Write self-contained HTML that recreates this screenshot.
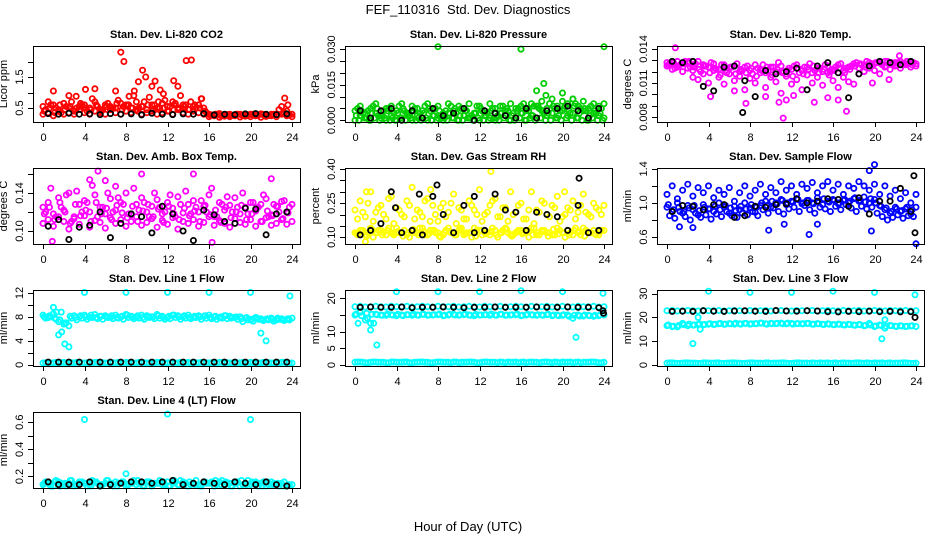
<!DOCTYPE html>
<html><head><meta charset="utf-8"><style>
html,body{margin:0;padding:0;background:#fff;}
svg{display:block;font-family:"Liberation Sans",sans-serif;}
</style></head><body>
<svg id="chart" width="936" height="540" viewBox="0 0 936 540">
<text x="468" y="14" text-anchor="middle" font-size="13">FEF_110316&#160; Std. Dev. Diagnostics</text>
<text x="468" y="531" text-anchor="middle" font-size="13">Hour of Day (UTC)</text>
</svg>
<script>
// shared time grids (hours)
const halfHours = []; for (let i = 0; i <= 48; i++) halfHours.push(i * 0.5);
const offHours = []; for (let i = 0; i < 48; i++) offHours.push(0.25 + i * 0.5);
const qHours = []; for (let i = 0; i < 48; i++) qHours.push(0.125 + i * 0.5);
const q3Hours = []; for (let i = 0; i < 48; i++) q3Hours.push(0.375 + i * 0.5);
const blackHours = []; for (let i = 0; i < 24; i++) blackHours.push(i + 0.5);
const xTicks = [0, 4, 8, 12, 16, 20, 24];

// ---- CO2 ----
const co2A = [0.55,0.7,0.6,0.45,0.65,0.5,0.4,0.55,0.6,0.5,0.7,0.45,0.6,0.55,0.5,0.65,0.6,0.5,0.7,0.55,0.45,0.6,0.5,0.65,0.55,0.7,0.5,0.6,0.45,0.55,0.6,0.5,0.3,0.28,0.32,0.25,0.3,0.27,0.3,0.26,0.3,0.28,0.31,0.27,0.3,0.29,0.55,0.4,0.3];
const co2B = [0.3,0.35,0.25,0.4,0.3,0.35,0.3,0.45,0.35,0.3,0.4,0.35,0.3,0.45,0.35,0.3,0.4,0.35,0.45,0.3,0.35,0.4,0.3,0.35,0.4,0.3,0.45,0.35,0.3,0.4,0.35,0.3,0.22,0.25,0.2,0.24,0.22,0.25,0.21,0.24,0.22,0.25,0.2,0.23,0.25,0.22,0.3,0.25,0.22];
const co2C = [0.45,0.6,0.5,0.35,0.55,0.7,0.5,0.6,0.4,0.8,0.55,0.45,0.65,0.5,0.75,0.55,0.6,0.9,0.5,0.7,0.85,0.6,0.5,0.75,0.55,0.65,0.9,0.6,0.7,0.5,0.8,0.35,0.28,0.3,0.25,0.29,0.27,0.3,0.26,0.28,0.3,0.27,0.29,0.26,0.3,0.45,0.35,0.28];
const co2D = [0.4,0.5,0.35,0.6,0.45,0.55,0.4,0.65,0.5,0.45,0.6,0.4,0.55,0.5,0.65,0.45,0.6,0.5,0.4,0.55,0.6,0.45,0.7,0.5,0.4,0.6,0.5,0.55,0.45,0.6,0.5,0.4,0.27,0.3,0.26,0.29,0.25,0.3,0.28,0.26,0.29,0.27,0.3,0.25,0.28,0.3,0.32,0.27];
const co2OutX = [1,2.5,3.2,4.1,5,7,7.5,7.8,8.3,8.8,9.2,9.6,9.9,10.5,10.8,11.3,11.6,12.6,13,13.8,14.3,15.3,23.3,23.6];
const co2OutY = [1.05,0.9,0.88,1.1,1.12,1.05,2.3,2.0,0.88,1.05,1.35,1.72,1.5,1.2,1.37,1.08,0.96,1.38,1.2,2.03,2.05,0.8,0.82,0.6];
const co2Black = [0.32,0.3,0.33,0.3,0.31,0.29,0.32,0.3,0.31,0.28,0.33,0.3,0.29,0.31,0.3,0.32,0.28,0.3,0.29,0.31,0.32,0.3,0.29,0.31];

// ---- Pressure ----
const prA = [0.004,0.006,0.003,0.005,0.007,0.002,0.005,0.006,0.004,0.007,0.003,0.006,0.005,0.004,0.007,0.005,0.006,0.003,0.007,0.004,0.006,0.005,0.007,0.003,0.006,0.004,0.007,0.005,0.006,0.004,0.007,0.005,0.006,0.004,0.007,0.006,0.008,0.005,0.009,0.006,0.008,0.007,0.009,0.006,0.008,0.005,0.007,0.006,0.007];
const prB = [0,0.002,0.001,0,0.003,0.001,0,0.002,0,0.001,0.003,0,0.002,0.001,0,0.002,0.001,0,0.003,0.001,0,0.002,0.001,0.003,0,0.002,0.001,0,0.003,0.002,0,0.001,0.003,0,0.002,0.001,0.004,0.002,0.003,0.001,0.004,0.002,0.003,0.001,0.004,0,0.003,0.002,0.001];
const prC = [0.005,0.003,0.004,0.006,0.002,0.004,0.005,0.003,0.006,0.004,0.002,0.005,0.003,0.006,0.004,0.005,0.002,0.004,0.006,0.003,0.005,0.004,0.002,0.006,0.004,0.003,0.005,0.002,0.006,0.004,0.003,0.005,0.007,0.004,0.006,0.005,0.003,0.007,0.005,0.004,0.006,0.003,0.007,0.005,0.004,0.006,0.003,0.005];
const prD = [0.002,0.004,0.001,0.003,0.005,0.002,0.004,0.001,0.003,0.005,0.002,0.004,0.001,0.003,0.005,0.002,0.004,0.001,0.003,0.005,0.002,0.004,0.001,0.003,0.005,0.002,0.004,0.001,0.003,0.005,0.002,0.004,0.003,0.005,0.002,0.006,0.004,0.003,0.006,0.002,0.005,0.004,0.006,0.003,0.005,0.002,0.004,0.003];
const prE = [0,0.001,0,0.001,0,0.001,0,0,0.001,0,0.001,0,0,0.001,0,0,0.001,0,0.001,0,0,0.001,0,0.001,0,0,0.001,0,0.001,0,0,0.001,0,0.001,0,0.001,0,0,0.001,0,0.001,0,0.001,0,0,0.001,0,0];
const prOutX = [8,16,18.2,18.4,17.5,20,21,24];
const prOutY = [0.031,0.030,0.0155,0.0105,0.0125,0.0115,0.009,0.031];
const prBlack = [0.004,0.001,0.004,0.005,0,0.004,0.001,0.005,0.002,0.003,0.005,0,0.004,0.003,0.002,0.001,0.005,0.001,0.004,0.005,0.006,0.004,0.001,0.005];

// ---- Li-820 Temp ----
const tpA = [0.0128,0.0126,0.0129,0.0127,0.0128,0.0125,0.0129,0.0126,0.0124,0.0127,0.0122,0.0126,0.0123,0.0125,0.012,0.0124,0.0121,0.0126,0.0122,0.0119,0.0124,0.012,0.0125,0.0118,0.0122,0.0126,0.0121,0.0124,0.0119,0.0123,0.012,0.0125,0.0122,0.0126,0.0121,0.0124,0.0127,0.0123,0.0126,0.0128,0.0127,0.0128,0.0129,0.0127,0.0128,0.0129,0.0127,0.0128,0.0127];
const tpB = [0.0125,0.0122,0.0124,0.012,0.0123,0.0121,0.0113,0.0118,0.011,0.0121,0.0115,0.0109,0.0118,0.0112,0.0116,0.0104,0.0114,0.011,0.0119,0.0106,0.0115,0.0111,0.0101,0.0116,0.0109,0.0113,0.0104,0.0117,0.011,0.0115,0.0108,0.0119,0.0112,0.0106,0.0115,0.0111,0.0109,0.0118,0.012,0.0123,0.0121,0.0118,0.0124,0.0122,0.0125,0.0123,0.0126,0.0124,0.0125];
const tpC = [0.0127,0.0123,0.0126,0.0129,0.0124,0.0127,0.012,0.0125,0.0128,0.0122,0.0126,0.0119,0.0124,0.0127,0.0121,0.0125,0.0118,0.0123,0.0126,0.0121,0.0124,0.0128,0.012,0.0123,0.0125,0.0119,0.0124,0.0127,0.0121,0.0123,0.0126,0.012,0.0124,0.0127,0.0123,0.0125,0.0128,0.0126,0.0129,0.0127,0.0128,0.0126,0.0129,0.0127,0.0128,0.0126,0.0127,0.0128];
const tpD = [0.0126,0.0128,0.0125,0.0127,0.0129,0.0124,0.0122,0.0125,0.0119,0.0123,0.0117,0.0121,0.0124,0.0118,0.0122,0.0119,0.0123,0.0116,0.0121,0.0124,0.0117,0.0122,0.0119,0.0121,0.0116,0.0123,0.0118,0.0122,0.0125,0.0119,0.0122,0.0117,0.0121,0.0123,0.0119,0.0122,0.0125,0.0127,0.0124,0.0126,0.0128,0.0127,0.0125,0.0128,0.0126,0.0127,0.0129,0.0126];
const tpOutX = [0.8,2.5,4.2,6.5,7.6,9.5,10.8,11.2,11.5,12.2,14.2,15.5,16.5,17.3,19.8,21.4,22.4];
const tpOutY = [0.0141,0.0115,0.0098,0.0103,0.0092,0.0098,0.0093,0.0079,0.0095,0.0099,0.0093,0.0097,0.0095,0.0085,0.011,0.0113,0.0134];
const tpBlack = [0.0129,0.0128,0.0129,0.0107,0.0103,0.0124,0.0125,0.0112,0.0098,0.0121,0.0118,0.012,0.0123,0.0104,0.0125,0.0128,0.0119,0.0097,0.0118,0.0125,0.0129,0.0128,0.0126,0.0129];
const tpBlackOutX = [7.3]; const tpBlackOutY = [0.0084];

// ---- Amb Box Temp ----
const abA = [0.125,0.13,0.118,0.135,0.122,0.14,0.115,0.128,0.132,0.12,0.138,0.125,0.118,0.134,0.122,0.13,0.14,0.117,0.128,0.135,0.12,0.126,0.133,0.118,0.13,0.124,0.136,0.119,0.128,0.132,0.12,0.126,0.138,0.115,0.13,0.122,0.127,0.135,0.118,0.125,0.13,0.121,0.128,0.134,0.117,0.126,0.131,0.12,0.128];
const abB = [0.108,0.112,0.105,0.115,0.11,0.102,0.113,0.107,0.116,0.104,0.111,0.109,0.103,0.114,0.108,0.112,0.105,0.11,0.115,0.106,0.109,0.113,0.104,0.111,0.107,0.114,0.102,0.11,0.108,0.112,0.105,0.109,0.115,0.106,0.111,0.108,0.104,0.113,0.109,0.107,0.112,0.105,0.11,0.114,0.106,0.108,0.112,0.107,0.11];
const abC = [0.12,0.145,0.115,0.125,0.138,0.11,0.142,0.12,0.13,0.148,0.115,0.125,0.14,0.12,0.135,0.128,0.118,0.145,0.122,0.13,0.115,0.14,0.125,0.12,0.138,0.115,0.128,0.142,0.118,0.125,0.132,0.12,0.145,0.115,0.128,0.136,0.12,0.125,0.14,0.118,0.13,0.125,0.138,0.115,0.128,0.12,0.132,0.125];
const abD = [0.118,0.125,0.112,0.13,0.12,0.108,0.128,0.116,0.122,0.11,0.13,0.118,0.124,0.112,0.127,0.119,0.114,0.126,0.11,0.121,0.128,0.115,0.123,0.109,0.126,0.118,0.112,0.124,0.116,0.121,0.11,0.127,0.117,0.122,0.109,0.125,0.114,0.12,0.127,0.112,0.118,0.124,0.11,0.121,0.116,0.126,0.113,0.119];
const abOutX = [0.9,4.5,5.3,6,7,9.5,14.5,16.3,22];
const abOutY = [0.089,0.154,0.163,0.153,0.147,0.16,0.16,0.088,0.155];
const abBlack = [0.105,0.112,0.091,0.104,0.106,0.12,0.093,0.108,0.118,0.115,0.098,0.126,0.118,0.1,0.09,0.122,0.117,0.11,0.108,0.124,0.123,0.096,0.118,0.12];

// ---- Gas Stream RH ----
const rhA = [0.12,0.13,0.11,0.14,0.12,0.13,0.11,0.12,0.14,0.12,0.11,0.13,0.12,0.14,0.11,0.13,0.12,0.11,0.14,0.12,0.13,0.11,0.12,0.14,0.13,0.12,0.11,0.13,0.12,0.14,0.11,0.12,0.13,0.12,0.14,0.11,0.13,0.12,0.11,0.14,0.12,0.13,0.11,0.12,0.14,0.12,0.13,0.11,0.13];
const rhB = [0.11,0.13,0.12,0.1,0.13,0.12,0.14,0.11,0.12,0.13,0.1,0.12,0.14,0.11,0.13,0.12,0.1,0.13,0.12,0.11,0.14,0.12,0.1,0.13,0.11,0.12,0.14,0.1,0.13,0.12,0.11,0.13,0.12,0.1,0.14,0.11,0.13,0.12,0.11,0.13,0.1,0.12,0.14,0.11,0.13,0.12,0.11,0.13];
const rhC = [0.22,0.26,0.19,0.3,0.21,0.24,0.18,0.28,0.23,0.2,0.26,0.32,0.22,0.19,0.27,0.24,0.17,0.25,0.21,0.29,0.23,0.18,0.26,0.22,0.31,0.2,0.24,0.27,0.19,0.23,0.3,0.21,0.25,0.18,0.3,0.22,0.26,0.2,0.24,0.28,0.19,0.23,0.26,0.21,0.29,0.2,0.25,0.22,0.24];
const rhD = [0.18,0.21,0.25,0.17,0.23,0.2,0.27,0.16,0.22,0.19,0.24,0.18,0.21,0.26,0.17,0.2,0.23,0.19,0.25,0.16,0.22,0.18,0.24,0.2,0.17,0.21,0.26,0.19,0.23,0.17,0.2,0.24,0.18,0.22,0.16,0.21,0.25,0.19,0.23,0.17,0.2,0.22,0.18,0.24,0.21,0.19,0.23,0.2];
const rhE = [0.115,0.125,0.105,0.135,0.12,0.11,0.13,0.115,0.125,0.105,0.12,0.135,0.11,0.125,0.115,0.13,0.105,0.12,0.125,0.11,0.135,0.115,0.12,0.105,0.13,0.115,0.125,0.11,0.12,0.135,0.105,0.125,0.115,0.13,0.11,0.12,0.125,0.105,0.135,0.115,0.12,0.11,0.13,0.125,0.105,0.12,0.115,0.125];
const rhOutX = [1,1.1,7.3,13.1,20.2];
const rhOutY = [0.08,0.3,0.31,0.39,0.3];
const rhBlack = [0.11,0.13,0.16,0.3,0.12,0.13,0.11,0.28,0.2,0.12,0.24,0.12,0.13,0.29,0.22,0.21,0.13,0.21,0.2,0.19,0.13,0.24,0.12,0.13];
const rhBlackOutX = [3.9,7.9,21.6,11.5,6.2]; const rhBlackOutY = [0.23,0.33,0.36,0.28,0.29];

// ---- Sample Flow ----
const sfA = [0.95,0.9,1.0,0.88,0.97,0.92,0.86,0.98,0.93,0.9,1.0,0.95,0.88,0.96,0.92,1.0,0.94,0.89,0.97,1.02,0.95,1.0,1.04,0.98,1.02,1.05,0.99,1.03,1.0,1.06,0.98,1.02,1.04,0.99,1.03,1.0,1.05,1.02,1.07,1.0,1.04,0.97,0.92,0.88,0.95,0.9,0.93,0.87,0.95];
const sfB = [1.1,1.2,1.05,1.15,1.22,1.08,1.18,1.12,1.2,1.06,1.15,1.1,1.18,1.02,1.12,1.2,1.08,1.15,1.22,1.1,1.18,1.12,1.25,1.15,1.2,1.1,1.22,1.17,1.24,1.12,1.2,1.25,1.15,1.22,1.1,1.2,1.17,1.25,1.2,1.15,1.22,1.1,1.2,1.08,1.15,1.05,1.12,1.0,1.1];
const sfC = [0.85,0.82,0.9,0.84,0.8,0.88,0.83,0.86,0.81,0.87,0.84,0.9,0.85,0.83,0.88,0.86,0.9,0.85,0.92,0.88,0.94,0.9,0.87,0.93,0.95,0.9,0.97,0.92,0.88,0.95,0.93,0.9,0.96,0.92,0.98,0.94,0.9,0.96,0.93,0.95,0.88,0.84,0.8,0.83,0.86,0.82,0.85,0.84];
const sfD = [0.98,0.92,0.95,0.9,0.94,0.97,0.91,0.95,0.93,0.96,0.92,0.97,0.94,0.91,0.96,0.93,0.98,0.95,1.0,0.97,1.02,0.99,1.03,1.0,1.01,1.04,1.0,1.03,0.99,1.02,1.05,1.01,1.03,1.0,1.04,1.02,1.06,1.03,1.01,1.05,1.0,0.96,0.94,0.9,0.93,0.91,0.95,0.92];
const sfOutX = [1.2,2.5,9.8,11.3,13.7,14.5,19.5,20,19.7,24];
const sfOutY = [0.72,0.71,0.68,0.75,0.63,0.75,1.38,1.45,0.67,0.52];
const sfBlack = [0.9,0.97,0.96,0.92,0.98,0.98,0.83,0.85,0.96,0.95,0.98,0.99,1.05,1.0,1.02,1.05,1.04,0.96,1.06,0.87,1.02,1.02,1.17,0.9];
const sfBlackOutX = [23.8,23.9]; const sfBlackOutY = [1.32,0.65];

// ---- Line 1 Flow ----
const l1A = [8.3,7.9,8.5,7.2,6.8,6.5,8.2,8.0,8.3,7.9,8.4,8.1,8.2,7.9,8.3,8.0,8.4,8.1,7.9,8.3,8.2,8.0,8.4,8.1,7.9,8.3,8.2,8.0,8.3,7.9,8.2,8.1,8.3,8.0,7.9,8.2,8.1,7.9,8.0,7.8,7.5,7.9,7.7,7.6,7.8,7.5,7.7,7.6,7.8];
const l1B = [7.8,8.0,7.6,8.8,7.0,7.8,7.5,7.8,7.6,7.9,7.7,7.6,7.9,7.7,7.8,7.6,7.9,7.7,7.8,7.6,7.9,7.7,7.8,7.6,7.7,7.9,7.6,7.8,7.7,7.9,7.6,7.8,7.7,7.6,7.8,7.7,7.9,7.6,7.2,7.5,7.3,7.6,7.4,7.5,7.3,7.6,7.4,7.5];
const l1C = [8.0,8.2,7.8,7.5,7.0,8.1,7.9,8.2,8.0,8.3,7.9,8.1,8.0,8.2,7.9,8.1,8.3,8.0,8.2,7.9,8.1,8.0,8.2,7.9,8.1,8.3,8.0,8.2,7.9,8.1,8.0,8.2,7.9,8.1,8.0,8.2,7.8,8.0,7.7,7.9,7.6,7.8,7.5,7.7,7.6,7.8,7.5,7.7];
const l1Z = [0.3,0.4,0.3,0.3,0.4,0.3,0.3,0.4,0.3,0.3,0.4,0.3,0.3,0.4,0.3,0.3,0.4,0.3,0.3,0.4,0.3,0.3,0.4,0.3,0.3,0.4,0.3,0.3,0.4,0.3,0.3,0.4,0.3,0.3,0.4,0.3,0.3,0.4,0.3,0.3,0.4,0.3,0.3,0.4,0.3,0.3,0.4,0.3,0.3];
const l1Z2 = [0.35,0.3,0.4,0.35,0.3,0.35,0.4,0.3,0.35,0.3,0.4,0.35,0.3,0.35,0.4,0.3,0.35,0.3,0.4,0.35,0.3,0.35,0.4,0.3,0.35,0.3,0.4,0.35,0.3,0.35,0.4,0.3,0.35,0.3,0.4,0.35,0.3,0.35,0.4,0.3,0.35,0.3,0.4,0.35,0.3,0.35,0.4,0.3];
const l1OutX = [1,1.3,1.5,1.8,2.1,2.5,4,8,12,16,20,21,21.5,23.8];
const l1OutY = [9.6,8.8,5.0,5.5,3.5,3.0,12.1,12.1,12.1,12.1,12.1,5.3,4.0,11.5];
const l1Black = [0.45,0.45,0.45,0.45,0.45,0.45,0.45,0.45,0.45,0.45,0.45,0.45,0.45,0.45,0.45,0.45,0.45,0.45,0.45,0.45,0.45,0.45,0.45,0.45];

// ---- Line 2 Flow ----
const l2A = [17.5,17.6,17.4,17.5,17.6,17.5,17.4,17.6,17.5,17.5,17.6,17.4,17.5,17.6,17.5,17.4,17.6,17.5,17.5,17.6,17.4,17.5,17.6,17.5,17.4,17.6,17.5,17.5,17.6,17.4,17.5,17.6,17.5,17.4,17.6,17.5,17.5,17.6,17.4,17.5,17.6,17.5,17.4,17.6,17.5,17.5,17.6,17.4,17.5];
const l2B = [15.0,15.8,13.5,12.5,15.2,15.0,14.9,15.1,14.8,15.0,15.1,14.9,15.0,15.2,14.9,15.0,15.1,14.8,15.0,15.2,14.9,15.1,15.0,14.8,15.0,15.1,14.9,15.0,15.2,14.9,15.0,15.1,14.8,15.0,15.1,14.9,15.0,15.1,14.8,15.0,14.9,15.0,14.0,15.0,14.7,14.9,14.6,14.8,15.0];
const l2C = [15.3,14.8,15.5,15.2,15.1,14.9,15.3,15.0,15.2,14.8,15.1,15.3,14.9,15.2,15.0,15.1,15.3,14.9,15.2,15.0,15.1,15.3,14.9,15.2,15.0,15.1,15.3,14.9,15.2,15.0,15.1,15.3,14.9,15.2,15.0,15.1,14.9,15.2,15.0,14.8,15.1,14.6,14.9,14.7,15.0,14.8,14.9,15.0];
const l2Z = [0.8,0.9,0.7,0.8,0.9,0.8,0.7,0.9,0.8,0.8,0.9,0.7,0.8,0.9,0.8,0.7,0.9,0.8,0.8,0.9,0.7,0.8,0.9,0.8,0.7,0.9,0.8,0.8,0.9,0.7,0.8,0.9,0.8,0.7,0.9,0.8,0.8,0.9,0.7,0.8,0.9,0.8,0.7,0.9,0.8,0.8,0.9,0.7,0.8];
const l2Z2 = [0.9,0.8,0.7,0.9,0.8,0.8,0.7,0.9,0.8,0.9,0.7,0.8,0.9,0.8,0.7,0.8,0.9,0.8,0.7,0.9,0.8,0.8,0.9,0.7,0.8,0.9,0.8,0.7,0.8,0.9,0.8,0.7,0.9,0.8,0.8,0.7,0.9,0.8,0.9,0.7,0.8,0.9,0.8,0.7,0.8,0.9,0.8,0.7];
const l2OutX = [0.3,0.5,1.2,1.5,1.8,2.1,4,8,12,16,20,21.3,23.9];
const l2OutY = [12.5,16,14,10.5,12.5,6,22,22,22,22.3,22,8.3,21.5];
const l2Black = [17.3,17.4,17.3,17.3,17.4,17.2,17.3,17.3,17.4,17.3,17.2,17.3,17.3,17.4,17.3,17.3,17.3,17.4,17.3,17.3,17.4,17.3,17.3,17.2];
const l2BlackOutX = [23.9,23.95]; const l2BlackOutY = [16.3,15.5];

// ---- Line 3 Flow ----
const l3A = [22.8,22.9,22.7,22.8,22.9,22.8,22.7,22.9,22.8,22.8,22.9,22.7,22.8,22.9,22.8,22.7,22.9,22.8,22.8,22.9,22.7,22.8,22.9,22.8,22.7,22.9,22.8,22.8,22.9,22.7,22.8,22.9,22.8,22.7,22.9,22.8,22.8,22.9,22.7,22.8,22.9,22.8,22.7,22.9,22.8,22.8,22.9,22.7,22.8];
const l3B = [16.5,16.2,16.0,17.5,16.5,16.8,17.0,16.9,17.2,17.0,17.3,17.1,17.4,17.2,17.3,17.5,17.2,17.4,17.6,17.3,17.5,17.4,17.6,17.3,17.5,17.4,17.3,17.5,17.2,17.4,17.1,17.3,17.0,17.2,16.9,17.1,16.8,17.0,16.5,17.5,16.2,16.8,15.5,16.6,16.3,16.5,16.2,16.4,16.2];
const l3C = [16.8,16.3,16.6,16.9,17.2,16.8,17.3,17.0,17.4,17.1,17.5,17.2,17.3,17.6,17.2,17.5,17.3,17.4,17.6,17.2,17.4,17.5,17.3,17.6,17.2,17.4,17.3,17.5,17.1,17.3,17.0,17.2,16.9,17.1,16.8,17.0,16.7,16.9,16.6,16.8,16.4,16.6,16.3,16.5,16.2,16.4,16.3,16.5];
const l3Z = [0.8,0.9,0.7,0.8,0.9,0.8,0.7,0.9,0.8,0.8,0.9,0.7,0.8,0.9,0.8,0.7,0.9,0.8,0.8,0.9,0.7,0.8,0.9,0.8,0.7,0.9,0.8,0.8,0.9,0.7,0.8,0.9,0.8,0.7,0.9,0.8,0.8,0.9,0.7,0.8,0.9,0.8,0.7,0.9,0.8,0.8,0.9,0.7,0.8];
const l3Z2 = [0.9,0.8,0.7,0.9,0.8,0.8,0.7,0.9,0.8,0.9,0.7,0.8,0.9,0.8,0.7,0.8,0.9,0.8,0.7,0.9,0.8,0.8,0.9,0.7,0.8,0.9,0.8,0.7,0.8,0.9,0.8,0.7,0.9,0.8,0.8,0.7,0.9,0.8,0.9,0.7,0.8,0.9,0.8,0.7,0.8,0.9,0.8,0.7];
const l3OutX = [2.5,3,3.2,4,8,12,16,20,20.7,21,23.9];
const l3OutY = [9,20,15,31,30.5,30.5,31,30.5,11,19,29.5];
const l3Black = [22.5,22.6,22.5,22.8,22.6,22.5,22.7,22.8,22.6,22.5,22.9,22.7,22.6,22.8,22.7,22.4,22.3,22.5,22.4,22.6,22.4,22.5,22.3,22.4];
const l3BlackOutX = [23.9]; const l3BlackOutY = [20];

// ---- Line 4 Flow ----
const l4A = [0.14,0.15,0.13,0.16,0.14,0.15,0.13,0.16,0.15,0.14,0.16,0.13,0.15,0.14,0.16,0.15,0.13,0.16,0.14,0.15,0.16,0.13,0.15,0.14,0.16,0.15,0.14,0.16,0.13,0.15,0.14,0.16,0.15,0.13,0.16,0.14,0.15,0.16,0.13,0.15,0.14,0.16,0.15,0.13,0.16,0.14,0.15,0.13,0.14];
const l4B = [0.16,0.13,0.17,0.15,0.13,0.17,0.14,0.16,0.13,0.17,0.15,0.14,0.17,0.13,0.15,0.16,0.14,0.17,0.15,0.13,0.16,0.15,0.17,0.14,0.13,0.16,0.17,0.15,0.14,0.17,0.13,0.15,0.16,0.14,0.17,0.15,0.13,0.16,0.14,0.17,0.15,0.13,0.16,0.14,0.15,0.13,0.16,0.14];
const l4C = [0.15,0.14,0.16,0.13,0.15,0.17,0.14,0.16,0.15,0.13,0.16,0.14,0.17,0.15,0.13,0.16,0.14,0.15,0.17,0.13,0.16,0.14,0.15,0.16,0.13,0.17,0.14,0.15,0.16,0.14,0.13,0.16,0.15,0.17,0.14,0.16,0.13,0.15,0.17,0.14,0.16,0.15,0.13,0.16,0.14,0.15,0.13,0.14];
const l4OutX = [4,8,12,20];
const l4OutY = [0.62,0.22,0.66,0.62];
const l4Black = [0.16,0.14,0.14,0.14,0.16,0.13,0.14,0.15,0.16,0.16,0.15,0.16,0.17,0.14,0.15,0.16,0.15,0.14,0.16,0.15,0.14,0.16,0.14,0.13];

const RED='#ff0000', GRN='#00cd00', MAG='#ff00ff', YEL='#ffff00', BLU='#0000ff', CYN='#00ffff', BLK='#000000';

const panels = [
 {name:'co2', title:'Stan. Dev. Li-820 CO2', ylab:'Licor ppm', col:0,row:0, lo:0.05, hi:2.5, ticks:[0.5,1,1.5,2], labels:[0.5,1.5], fmt:v=>String(v),
  series:[[halfHours,co2A,RED],[halfHours,co2B,RED],[offHours,co2C,RED],[qHours,co2D,RED],[co2OutX,co2OutY,RED],[blackHours,co2Black,BLK]]},
 {name:'pressure', title:'Stan. Dev. Li-820 Pressure', ylab:'kPa', col:1,row:0, lo:-0.0007, hi:0.0313, ticks:[0,0.005,0.01,0.015,0.02,0.025,0.03], labels:[0,0.015,0.03], fmt:v=>v.toFixed(3),
  series:[[halfHours,prA,GRN],[halfHours,prB,GRN],[offHours,prC,GRN],[qHours,prD,GRN],[q3Hours,prE,GRN],[prOutX,prOutY,GRN],[blackHours,prBlack,BLK]]},
 {name:'li820-temp', title:'Stan. Dev. Li-820 Temp.', ylab:'degrees C', col:2,row:0, lo:0.00756, hi:0.01426, ticks:[0.008,0.009,0.01,0.011,0.012,0.013,0.014], labels:[0.008,0.011,0.014], fmt:v=>v.toFixed(3),
  series:[[halfHours,tpA,MAG],[halfHours,tpB,MAG],[offHours,tpC,MAG],[qHours,tpD,MAG],[tpOutX,tpOutY,MAG],[blackHours,tpBlack,BLK],[tpBlackOutX,tpBlackOutY,BLK]]},
 {name:'amb-box-temp', title:'Stan. Dev. Amb. Box Temp.', ylab:'degrees C', col:0,row:1, lo:0.0863, hi:0.1663, ticks:[0.1,0.12,0.14,0.16], labels:[0.1,0.14], fmt:v=>v.toFixed(2),
  series:[[halfHours,abA,MAG],[halfHours,abB,MAG],[offHours,abC,MAG],[qHours,abD,MAG],[abOutX,abOutY,MAG],[blackHours,abBlack,BLK]]},
 {name:'gas-stream-rh', title:'Stan. Dev. Gas Stream RH', ylab:'percent', col:1,row:1, lo:0.07, hi:0.405, ticks:[0.1,0.15,0.2,0.25,0.3,0.35,0.4], labels:[0.1,0.25,0.4], fmt:v=>v.toFixed(2),
  series:[[halfHours,rhC,YEL],[offHours,rhD,YEL],[halfHours,rhA,YEL],[offHours,rhB,YEL],[qHours,rhE,YEL],[rhOutX,rhOutY,YEL],[blackHours,rhBlack,BLK],[rhBlackOutX,rhBlackOutY,BLK]]},
 {name:'sample-flow', title:'Stan. Dev. Sample Flow', ylab:'ml/min', col:2,row:1, lo:0.518, hi:1.41, ticks:[0.6,0.8,1.0,1.2,1.4], labels:[0.6,1.0,1.4], fmt:v=>v.toFixed(1),
  series:[[halfHours,sfB,BLU],[offHours,sfC,BLU],[halfHours,sfA,BLU],[qHours,sfD,BLU],[sfOutX,sfOutY,BLU],[blackHours,sfBlack,BLK],[sfBlackOutX,sfBlackOutY,BLK]]},
 {name:'line1-flow', title:'Stan. Dev. Line 1 Flow', ylab:'ml/min', col:0,row:2, lo:-0.2, hi:12.5, ticks:[0,2,4,6,8,10,12], labels:[0,4,8,12], fmt:v=>String(v),
  series:[[halfHours,l1A,CYN],[offHours,l1B,CYN],[qHours,l1C,CYN],[halfHours,l1Z,CYN],[offHours,l1Z2,CYN],[l1OutX,l1OutY,CYN],[blackHours,l1Black,BLK]]},
 {name:'line2-flow', title:'Stan. Dev. Line 2 Flow', ylab:'ml/min', col:1,row:2, lo:-0.3, hi:22.5, ticks:[0,5,10,15,20], labels:[0,5,10,20], fmt:v=>String(v),
  series:[[halfHours,l2A,CYN],[halfHours,l2B,CYN],[qHours,l2C,CYN],[halfHours,l2Z,CYN],[offHours,l2Z2,CYN],[l2OutX,l2OutY,CYN],[blackHours,l2Black,BLK],[l2BlackOutX,l2BlackOutY,BLK]]},
 {name:'line3-flow', title:'Stan. Dev. Line 3 Flow', ylab:'ml/min', col:2,row:2, lo:-0.4, hi:31.5, ticks:[0,10,20,30], labels:[0,10,20,30], fmt:v=>String(v),
  series:[[halfHours,l3A,CYN],[halfHours,l3B,CYN],[qHours,l3C,CYN],[halfHours,l3Z,CYN],[offHours,l3Z2,CYN],[l3OutX,l3OutY,CYN],[blackHours,l3Black,BLK],[l3BlackOutX,l3BlackOutY,BLK]]},
 {name:'line4-flow', title:'Stan. Dev. Line 4 (LT) Flow', ylab:'ml/min', col:0,row:3, lo:0.115, hi:0.675, ticks:[0.2,0.3,0.4,0.5,0.6], labels:[0.2,0.4,0.6], fmt:v=>v.toFixed(1),
  series:[[halfHours,l4A,CYN],[offHours,l4B,CYN],[qHours,l4C,CYN],[l4OutX,l4OutY,CYN],[blackHours,l4Black,BLK]]}
];

const NS='http://www.w3.org/2000/svg';
const svg=document.getElementById('chart');
function mk(tag, attrs, parent){const e=document.createElementNS(NS,tag);for(const k in attrs)e.setAttribute(k,attrs[k]);(parent||svg).appendChild(e);return e;}

panels.forEach(p=>{
  const L=33+312*p.col, R=L+267, T=46+122*p.row, B=T+76;
  const x0=L+10, x24=R-8;
  const xs=h=>x0+(x24-x0)*h/24;
  const ys=v=>B-(v-p.lo)/(p.hi-p.lo)*(B-T);
  const g=mk('g',{});
  
  
  const t=mk('text',{x:(L+R)/2,y:T-8,'text-anchor':'middle','font-size':'11','font-weight':'bold'},g);
  t.textContent=p.title;
  
  
  const marks=mk('g',{fill:'none','stroke-width':'1.8'},g);
  
  
  p.series.forEach(([xa,ya,c])=>{
    const n=Math.min(xa.length,ya.length);
    for(let i=0;i<n;i++){
      const c1=mk('circle',{cx:xs(xa[i]).toFixed(1),cy:ys(ya[i]).toFixed(1),r:'2.6',stroke:c},marks);
      
      
    }
  });
  const box=mk('rect',{x:L+0.5,y:T+0.5,width:R-L,height:B-T,fill:'none',stroke:'#000','stroke-width':'1'},g);
  
  
  const xa=mk('g',{},g);
  
  
  xTicks.forEach(h=>{
    const X=Math.round(xs(h))+0.5;
    mk('line',{x1:X,x2:X,y1:B,y2:B+5,stroke:'#000'},xa);
    const tl=mk('text',{x:X,y:B+19,'text-anchor':'middle','font-size':'11'},xa);
    tl.textContent=h;
    
    
  });
  const ya=mk('g',{},g);
  
  
  p.ticks.forEach(v=>{
    const Y=Math.round(ys(v))+0.5;
    mk('line',{x1:L-5,x2:L,y1:Y,y2:Y,stroke:'#000'},ya);
  });
  p.labels.forEach(v=>{
    const Y=ys(v), X=L-10;
    const tl=mk('text',{x:X,y:Y,'text-anchor':'middle','font-size':'11',transform:`rotate(-90 ${X} ${Y})`},ya);
    tl.textContent=p.fmt(v);
    
    
  });
  const yt=mk('text',{x:L-26,y:(T+B)/2,'text-anchor':'middle','font-size':'11',transform:`rotate(-90 ${L-26} ${(T+B)/2})`},g);
  yt.textContent=p.ylab;
  
  
});
</script>
</body></html>
